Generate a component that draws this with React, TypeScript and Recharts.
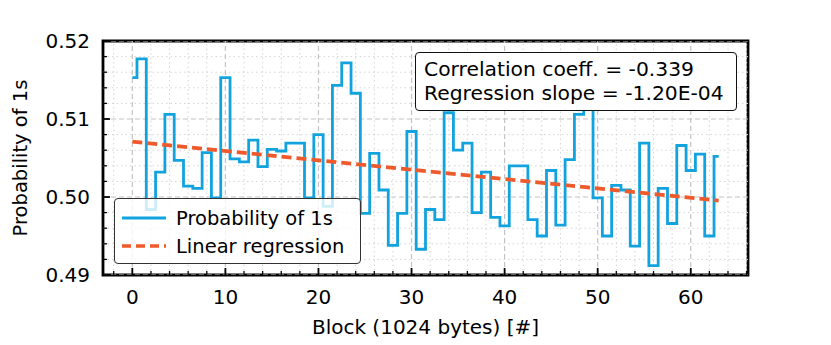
import React from 'react';
import { LineChart, Line, XAxis, YAxis, ReferenceLine, ReferenceArea, Legend } from 'recharts';

const FONT = '"DejaVu Sans", Verdana, sans-serif';

const blocks = [
  0, 1, 2, 3, 4, 5, 6, 7, 8, 9, 10, 11, 12, 13, 14, 15,
  16, 17, 18, 19, 20, 21, 22, 23, 24, 25, 26, 27, 28, 29, 30, 31,
  32, 33, 34, 35, 36, 37, 38, 39, 40, 41, 42, 43, 44, 45, 46, 47,
  48, 49, 50, 51, 52, 53, 54, 55, 56, 57, 58, 59, 60, 61, 62, 63,
];

const probability = [
  0.5153, 0.5177, 0.4984, 0.5032, 0.5106, 0.5047, 0.5014, 0.5011,
  0.5057, 0.4999, 0.5153, 0.5049, 0.5045, 0.5073, 0.5039, 0.5061,
  0.5059, 0.5069, 0.5069, 0.4999, 0.5080, 0.4988, 0.5143, 0.5172,
  0.5133, 0.4979, 0.5056, 0.5009, 0.4938, 0.4979, 0.5084, 0.4933,
  0.4984, 0.4971, 0.5108, 0.5060, 0.5069, 0.4980, 0.5032, 0.4974,
  0.4963, 0.5040, 0.5040, 0.4971, 0.4950, 0.5034, 0.4964, 0.5048,
  0.5106, 0.5145, 0.4999, 0.4950, 0.5015, 0.5009, 0.4937, 0.5069,
  0.4912, 0.5011, 0.4966, 0.5066, 0.5034, 0.5055, 0.4950, 0.5052,
];

const regressionBlocks = [0, 63];
const regressionValues = [0.5071, 0.49954];

const xMajorTicks = [0, 10, 20, 30, 40, 50, 60];
const xMinorTicks = [-2, 2, 4, 6, 8, 12, 14, 16, 18, 22, 24, 26, 28, 32, 34, 36, 38, 42, 44, 46, 48, 52, 54, 56, 58, 62, 64, 66];
const yMajorTicks = [0.49, 0.5, 0.51, 0.52];
const yMinorTicks = [0.492, 0.494, 0.496, 0.498, 0.502, 0.504, 0.506, 0.508, 0.512, 0.514, 0.516, 0.518];

const xDomain = [-3.15, 66.15];
const yDomain = [0.49, 0.52];

const seriesNames = ['Probability of 1s', 'Linear regression'];
const statsLines = ['Correlation coeff. = -0.339', 'Regression slope = -1.20E-04'];
const xLabel = 'Block (1024 bytes) [#]';
const yLabel = 'Probability of 1s';

const BLUE = '#12a3df';
const ORANGE = '#ef5a2c';

const stepData = blocks.map((b, i) => ({ b, p: probability[i] }));
const regData = regressionBlocks.map((b, i) => ({ b, r: regressionValues[i] }));

const isMajorX = (v: number) => xMajorTicks.includes(v);
const isMajorY = (v: number) => yMajorTicks.some((m) => Math.abs(m - v) < 1e-9);

const XTick = (props: any) => {
  const { x, y, payload } = props;
  const v = payload.value;
  const major = isMajorX(v);
  return (
    <g>
      <line x1={x} x2={x} y1={y} y2={y - (major ? 7 : 4)} stroke="#000" strokeWidth={major ? 1.8 : 1.3} />
      {major && (
        <text x={x} y={y + 29} textAnchor="middle" fontSize={20} fontFamily={FONT} fill="#000">
          {v}
        </text>
      )}
    </g>
  );
};

const YTick = (props: any) => {
  const { x, y, payload } = props;
  const v = payload.value;
  const major = isMajorY(v);
  return (
    <g>
      <line x1={x} x2={x + (major ? 7 : 4)} y1={y} y2={y} stroke="#000" strokeWidth={major ? 1.8 : 1.3} />
      {major && (
        <text x={x - 13} y={y + 7} textAnchor="end" fontSize={20} fontFamily={FONT} fill="#000">
          {v.toFixed(2)}
        </text>
      )}
    </g>
  );
};

const renderLegend = (props: any) => {
  const payload = props.payload || [];
  const ordered = seriesNames
    .map((n) => payload.find((e: any) => e.value === n))
    .filter(Boolean);
  return (
    <div
      style={{
        width: 247,
        height: 66,
        boxSizing: 'border-box',
        border: '1.5px solid #333',
        borderRadius: 4,
        background: 'rgba(255,255,255,0.8)',
        position: 'relative',
        fontFamily: FONT,
        fontSize: 19.5,
        color: '#000',
      }}
    >
      {ordered.map((entry: any, i: number) => {
        const dashed = entry.value === seriesNames[1];
        return (
          <div key={i} style={{ position: 'absolute', left: 6, top: 7 + i * 28, height: 24, display: 'flex', alignItems: 'center', whiteSpace: 'nowrap' }}>
            <svg width={46} height={10} style={{ display: 'block' }}>
              <line
                x1={1}
                x2={45}
                y1={5}
                y2={5}
                stroke={entry.color}
                strokeWidth={dashed ? 3.4 : 2.8}
                strokeDasharray={dashed ? '9 5' : undefined}
              />
            </svg>
            <span style={{ marginLeft: 9 }}>{entry.value}</span>
          </div>
        );
      })}
    </div>
  );
};

export default function App() {
  return (
    <div style={{ position: 'absolute', left: 0, top: 0, width: 831, height: 345, background: '#fff' }}>
      <LineChart width={831} height={345} margin={{ top: 41, right: 83, bottom: 0, left: 0 }}>
        <XAxis
          dataKey="b"
          type="number"
          domain={xDomain}
          ticks={[...xMinorTicks, ...xMajorTicks].sort((a, b) => a - b)}
          interval={0}
          height={70}
          tickSize={0}
          tickMargin={0}
          tickLine={false}
          axisLine={false}
          tick={<XTick />}
          allowDataOverflow
          label={{
            value: xLabel,
            content: (p: any) => {
              const vb = p.viewBox;
              return (
                <text x={vb.x + vb.width / 2} y={vb.y + 59} textAnchor="middle" fontSize={20} fontFamily={FONT} fill="#000">
                  {xLabel}
                </text>
              );
            },
          }}
        />
        <YAxis
          type="number"
          domain={yDomain}
          ticks={[...yMinorTicks, ...yMajorTicks].sort((a, b) => a - b)}
          interval={0}
          width={103}
          tickSize={0}
          tickMargin={0}
          tickLine={false}
          axisLine={false}
          tick={<YTick />}
          allowDataOverflow
          label={{
            value: yLabel,
            content: (p: any) => {
              const vb = p.viewBox;
              const cx = vb.x + 20;
              const cy = vb.y + vb.height / 2;
              return (
                <text
                  x={0}
                  y={0}
                  transform={`translate(${cx}, ${cy}) rotate(-90)`}
                  textAnchor="middle"
                  dominantBaseline="central"
                  fontSize={19.5}
                  fontFamily={FONT}
                  fill="#000"
                >
                  {yLabel}
                </text>
              );
            },
          }}
        />
        {xMinorTicks.map((v) => (
          <ReferenceLine key={`xm${v}`} x={v} stroke="#d4d4d4" strokeWidth={1} strokeDasharray="1.5 3" ifOverflow="hidden" />
        ))}
        {yMinorTicks.map((v) => (
          <ReferenceLine key={`ym${v}`} y={v} stroke="#d4d4d4" strokeWidth={1} strokeDasharray="1.5 3" ifOverflow="hidden" />
        ))}
        {xMajorTicks.map((v) => (
          <ReferenceLine key={`xM${v}`} x={v} stroke="#c4c4c4" strokeWidth={1.2} strokeDasharray="5 3" ifOverflow="hidden" />
        ))}
        {yMajorTicks.map((v) => (
          <ReferenceLine key={`yM${v}`} y={v} stroke="#c4c4c4" strokeWidth={1.2} strokeDasharray="5 3" ifOverflow="hidden" />
        ))}
        <Line
          data={stepData}
          dataKey="p"
          name={seriesNames[0]}
          type="step"
          stroke={BLUE}
          strokeWidth={2.8}
          dot={false}
          activeDot={false}
          isAnimationActive={false}
        />
        <Line
          data={regData}
          dataKey="r"
          name={seriesNames[1]}
          type="linear"
          stroke={ORANGE}
          strokeWidth={3.6}
          strokeDasharray="10 5"
          dot={false}
          activeDot={false}
          isAnimationActive={false}
        />
        <ReferenceArea
          x1={xDomain[0]}
          x2={xDomain[1]}
          y1={yDomain[0]}
          y2={yDomain[1]}
          fill="none"
          fillOpacity={0}
          stroke="#000"
          strokeWidth={2.8}
          ifOverflow="visible"
        />
        <Legend
          layout="vertical"
          verticalAlign="middle"
          align="center"
          content={renderLegend}
          wrapperStyle={{ position: 'absolute', left: 114, top: 198, width: 247, height: 66 }}
        />
      </LineChart>
      <div
        style={{
          position: 'absolute',
          left: 415,
          top: 52,
          width: 322,
          height: 59,
          boxSizing: 'border-box',
          border: '1.5px solid #111',
          borderRadius: 4,
          background: '#fff',
          padding: '3.5px 0 0 8px',
          fontFamily: FONT,
          fontSize: 20.3,
          lineHeight: '24px',
          color: '#000',
          whiteSpace: 'nowrap',
        }}
      >
        {statsLines.map((s, i) => (
          <div key={i}>{s}</div>
        ))}
      </div>
    </div>
  );
}
